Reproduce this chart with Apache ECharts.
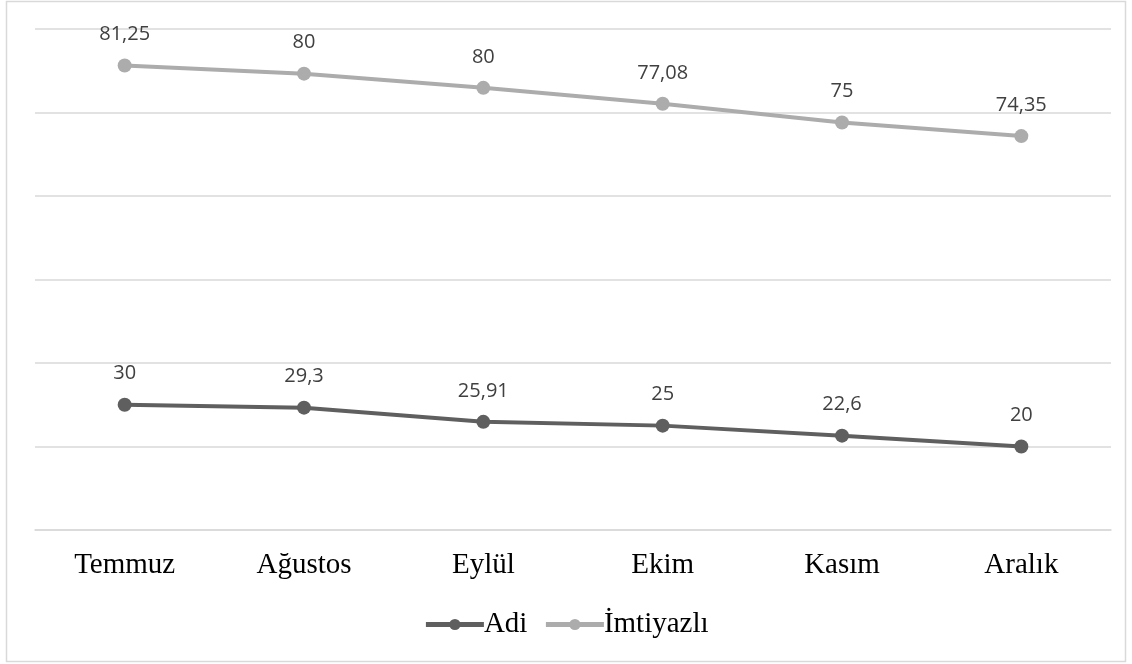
<!DOCTYPE html>
<html><head><meta charset="utf-8">
<script src="https://cdn.jsdelivr.net/npm/echarts@6/dist/echarts.min.js"></script>
<style>html,body{margin:0;padding:0;background:#fff}#c{width:1132px;height:664px}</style>
</head><body><div id="c"></div>
<script>
const categories = ['Temmuz', 'Ağustos', 'Eylül', 'Ekim', 'Kasım', 'Aralık'];
const adi = [30, 29.3, 25.91, 25, 22.6, 20];
const imtiyazli = [81.25, 80, 80, 77.08, 75, 74.35];
const seriesNames = ['Adi', 'İmtiyazlı'];

const fmt = p => String(p.value).replace('.', ',');
const chart = echarts.init(document.getElementById('c'));
function mk(name, data, color, z) {
  return {
    name, type: 'line', stack: 'total', data, z,
    symbol: 'circle', symbolSize: 14,
    lineStyle: { color, width: 4 },
    itemStyle: { color },
    label: { show: true, position: 'top', distance: 14, formatter: fmt,
      fontFamily: 'Open Sans', fontSize: 20, color: '#404040' }
  };
}
chart.setOption({
  animation: false,
  grid: { left: 35, right: 21, top: 29, bottom: 134 },
  legend: {
    bottom: 20, left: 'center', itemWidth: 58, itemHeight: 14, itemGap: 16,
    lineStyle: { width: 5 },
    textStyle: { fontFamily: 'Liberation Serif', fontSize: 29, color: '#000', padding: [0,0,0,-5] },
    data: seriesNames
  },
  xAxis: {
    type: 'category', data: categories, boundaryGap: true,
    axisLine: { show: true, lineStyle: { color: '#d9d9d9', width: 1.5 } },
    axisTick: { show: false },
    axisLabel: { fontFamily: 'Liberation Serif', fontSize: 29, color: '#000', margin: 21 }
  },
  yAxis: {
    type: 'value', min: 0, max: 120, interval: 20,
    axisLabel: { show: false }, axisLine: { show: false }, axisTick: { show: false },
    splitLine: { lineStyle: { color: '#d9d9d9', width: 1.5 } }
  },
  graphic: [{ type: 'rect', shape: { x: 6.5, y: 1.5, width: 1119, height: 660 },
    style: { fill: 'none', stroke: '#d9d9d9', lineWidth: 1.5 }, silent: true }],
  series: [
    mk(seriesNames[0], adi, '#5f5f5f', 3),
    mk(seriesNames[1], imtiyazli, '#acacac', 2)
  ]
});
</script></body></html>
